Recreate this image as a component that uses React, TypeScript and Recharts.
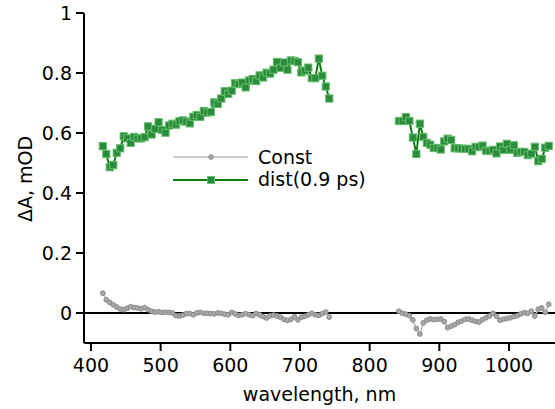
import React from 'react';
import { LineChart, Line, XAxis, YAxis, ReferenceLine } from 'recharts';

const wl1 = [417,422,427,432,437,442,447,452,457,462,467,472,477,482,487,492,497,502,507,512,517,522,527,532,537,542,547,552,557,562,567,572,577,582,587,592,597,602,607,612,617,622,627,632,637,642,647,652,657,662,667,672,677,682,687,692,697,702,707,712,717,722,727,732,737,742];
const dist1 = [0.556,0.530,0.486,0.493,0.534,0.549,0.589,0.582,0.567,0.587,0.582,0.582,0.586,0.622,0.595,0.614,0.636,0.610,0.601,0.625,0.631,0.628,0.639,0.642,0.638,0.632,0.654,0.660,0.654,0.673,0.668,0.670,0.702,0.697,0.715,0.739,0.730,0.741,0.766,0.763,0.768,0.752,0.775,0.780,0.773,0.792,0.785,0.801,0.798,0.811,0.837,0.817,0.835,0.811,0.842,0.840,0.836,0.802,0.808,0.818,0.783,0.783,0.848,0.791,0.755,0.715];
const const1 = [0.066,0.044,0.035,0.027,0.020,0.013,0.011,0.016,0.021,0.018,0.017,0.014,0.018,0.011,0.006,0.003,0.004,0.002,0.003,0.002,0.000,-0.009,-0.010,-0.007,-0.002,-0.002,-0.006,0.000,0.002,-0.001,-0.001,-0.002,-0.003,0.000,-0.001,-0.004,-0.006,0.002,-0.003,-0.008,-0.006,-0.002,-0.006,-0.009,-0.002,-0.006,-0.012,-0.017,-0.010,-0.007,-0.010,-0.014,-0.021,-0.025,-0.021,-0.012,-0.023,-0.014,-0.011,-0.006,-0.001,-0.006,-0.008,-0.002,0.003,-0.014];

const wl2 = [842,847,852,857,862,867,872,877,882,887,892,897,902,907,912,917,922,927,932,937,942,947,952,957,962,967,972,977,982,987,992,997,1002,1007,1012,1017,1022,1027,1032,1037,1042,1047,1052,1057];
const dist2 = [0.640,0.640,0.653,0.640,0.585,0.530,0.631,0.587,0.567,0.561,0.550,0.550,0.545,0.572,0.581,0.577,0.549,0.549,0.548,0.547,0.547,0.539,0.554,0.553,0.558,0.541,0.540,0.544,0.532,0.555,0.544,0.564,0.544,0.559,0.534,0.537,0.537,0.526,0.531,0.554,0.506,0.514,0.551,0.557];
const const2 = [0.006,-0.001,-0.004,-0.009,-0.023,-0.052,-0.070,-0.033,-0.024,-0.020,-0.022,-0.021,-0.020,-0.029,-0.049,-0.044,-0.039,-0.031,-0.027,-0.021,-0.020,-0.024,-0.028,-0.030,-0.022,-0.016,-0.010,-0.001,-0.011,-0.024,-0.021,-0.018,-0.016,-0.012,-0.009,-0.003,0.001,-0.001,0.006,-0.010,0.013,0.017,0.002,0.029];

const xTicks = [400, 500, 600, 700, 800, 900, 1000];
const yTicks = [0, 0.2, 0.4, 0.6, 0.8, 1];
const seriesNames = ['Const', 'dist(0.9 ps)'];

const data = [
  ...wl1.map((w, i) => ({ wl: w, c: const1[i], d: dist1[i] })),
  { wl: 792, c: null, d: null },
  ...wl2.map((w, i) => ({ wl: w, c: const2[i], d: dist2[i] })),
];

const FONT = 'DejaVu Sans, sans-serif';
const GREEN_LINE = '#0e7d12';
const GREEN_FILL = '#2b8b3d';
const GREEN_EDGE = '#62bd68';

const SquareDot = (props: any) => {
  const { cx, cy, index } = props;
  if (cx == null || cy == null || props.value == null) return <g key={`sq-${index}`} />;
  return (
    <rect key={`sq-${index}`} x={cx - 3.6} y={cy - 3.6} width={7.2} height={7.2}
      fill={GREEN_FILL} stroke={GREEN_EDGE} strokeWidth={1} />
  );
};

const LegendBox = () => (
  <svg width={240} height={60} style={{ position: 'absolute', left: 160, top: 140, overflow: 'visible', pointerEvents: 'none' }}>
    <line x1={13} y1={17} x2={88} y2={17} stroke="#bdbdbd" strokeWidth={1.6} />
    <circle cx={51} cy={17} r={2.3} fill="#a8a8a8" stroke="#8c8c8c" strokeWidth={1} />
    <text x={98} y={24} fontFamily={FONT} fontSize={19} fill="#000">{seriesNames[0]}</text>
    <line x1={13} y1={40} x2={88} y2={40} stroke={GREEN_LINE} strokeWidth={2} />
    <rect x={47.5} y={36.5} width={7} height={7} fill={GREEN_FILL} stroke={GREEN_EDGE} strokeWidth={1} />
    <text x={98} y={46} fontFamily={FONT} fontSize={19} fill="#000">{seriesNames[1]}</text>
  </svg>
);

const YLabel = (props: any) => {
  const vb = props.viewBox || { x: 0, y: 13, width: 84, height: 330 };
  const x = vb.x + 25;
  const y = vb.y + vb.height / 2 + 1;
  return (
    <text x={x} y={y} transform={`rotate(-90 ${x} ${y})`} textAnchor="middle" dominantBaseline="central"
      fontFamily={FONT} fontSize={19} fill="#000">ΔA, mOD</text>
  );
};

const fmtY = (v: number) => (v === 0 ? '0' : v === 1 ? '1' : v.toFixed(1));

export default function App() {
  return (
    <div style={{ position: 'absolute', left: 0, top: 0, width: 555, height: 409, background: '#fff' }}>
      <LineChart width={555} height={409} data={data} margin={{ top: 13, right: 0, left: 0, bottom: 0 }}>
        <XAxis
          dataKey="wl" type="number" domain={[390, 1066]} ticks={xTicks} allowDataOverflow
          axisLine={{ stroke: '#000', strokeWidth: 2 }} tickLine={{ stroke: '#000', strokeWidth: 2 }}
          tickSize={8} tickMargin={8} height={66}
          tick={{ fontFamily: FONT, fontSize: 19, fill: '#000' }}
          label={{ value: 'wavelength, nm', position: 'insideBottom', offset: 8, fontFamily: FONT, fontSize: 19, fill: '#000' }}
        />
        <YAxis
          type="number" domain={[-0.1, 1]} ticks={yTicks} allowDataOverflow width={84}
          axisLine={{ stroke: '#000', strokeWidth: 2 }} tickLine={{ stroke: '#000', strokeWidth: 2 }}
          tickSize={8} tickMargin={4} tickFormatter={fmtY}
          tick={{ fontFamily: FONT, fontSize: 19, fill: '#000' }}
          label={(p: any) => <YLabel {...p} />}
        />
        <ReferenceLine y={0} stroke="#000" strokeWidth={2} ifOverflow="extendDomain" />
        <Line
          dataKey="c" name={seriesNames[0]} stroke="#bdbdbd" strokeWidth={1.6}
          dot={{ r: 2.4, fill: '#a8a8a8', stroke: '#8c8c8c', strokeWidth: 1 }}
          isAnimationActive={false} connectNulls={false}
        />
        <Line
          dataKey="d" name={seriesNames[1]} stroke={GREEN_LINE} strokeWidth={2}
          dot={(p: any) => <SquareDot {...p} />}
          isAnimationActive={false} connectNulls={false}
        />
      </LineChart>
      <LegendBox />
    </div>
  );
}
